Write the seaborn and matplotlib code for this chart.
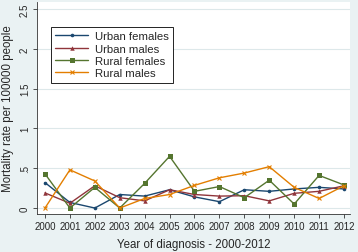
import matplotlib
matplotlib.use("Agg")
import matplotlib.pyplot as plt
import seaborn as sns
import pandas as pd

years = list(range(2000, 2013))
urban_females = [0.32, 0.07, 0.00, 0.17, 0.15, 0.23, 0.14, 0.08, 0.23, 0.21, 0.24, 0.26, 0.24]
urban_males = [0.19, 0.06, 0.28, 0.13, 0.09, 0.23, 0.17, 0.15, 0.155, 0.09, 0.185, 0.21, 0.28]
rural_females = [0.43, 0.00, 0.26, 0.00, 0.31, 0.65, 0.21, 0.27, 0.13, 0.35, 0.05, 0.41, 0.29]
rural_males = [0.00, 0.48, 0.34, 0.00, 0.12, 0.17, 0.285, 0.38, 0.44, 0.52, 0.26, 0.12, 0.28]
groups = ["Urban females", "Urban males", "Rural females", "Rural males"]
yticks = [0, 0.5, 1, 1.5, 2, 2.5]
ytick_labels = ["0", ".5", "1", "1.5", "2", "2.5"]

rows = []
for g, vals in zip(groups, [urban_females, urban_males, rural_females, rural_males]):
    for yr, v in zip(years, vals):
        rows.append({"year": yr, "rate": v, "group": g})
df = pd.DataFrame(rows)

sns.set_style("white")
plt.rcParams["font.family"] = ["Liberation Sans", "DejaVu Sans"]

bg = "#eaf2f3"
palette = {"Urban females": "#1a476f", "Urban males": "#90353b",
           "Rural females": "#55752f", "Rural males": "#e37e00"}
markers = {"Urban females": "o", "Urban males": "^",
           "Rural females": "s", "Rural males": "x"}
sizes = {"Urban females": 2.6, "Urban males": 3.2, "Rural females": 3.6, "Rural males": 3.0}

fig = plt.figure(figsize=(3.58, 2.53), dpi=100, facecolor=bg)
ax = fig.add_axes([37/358, 38/253, 313/358, 212/253])
ax.set_facecolor("white")

for g in groups:
    sub = df[df.group == g]
    sns.lineplot(data=sub, x="year", y="rate", ax=ax, color=palette[g], marker=markers[g],
                 markersize=sizes[g], markeredgewidth=0.8 if g == "Rural males" else 0,
                 markeredgecolor=palette[g], linewidth=1.0, label=g)

ax.set_xlim(1999.68, 2012.24)
ax.set_ylim(-0.075, 2.59)
ax.set_xticks(years)
ax.set_xticklabels([str(y) for y in years], fontsize=7)
ax.set_yticks(yticks)
ax.set_yticklabels(ytick_labels, fontsize=7, rotation=90, va="center")
ax.grid(axis="y", color="#dde8ea", linewidth=0.8)
ax.set_axisbelow(True)
for s in ["top", "right"]:
    ax.spines[s].set_visible(False)
for s in ["left", "bottom"]:
    ax.spines[s].set_color("#333333")
    ax.spines[s].set_linewidth(0.6)
ax.tick_params(axis="both", direction="out", length=3, width=0.6, color="#333333", pad=2,
               bottom=True, left=True)
ax.set_xlabel("Year of diagnosis - 2000-2012", fontsize=8.3, labelpad=5)
ax.set_ylabel("Mortality rate per 100000 people", fontsize=8.3, labelpad=4)

leg = ax.legend(loc="upper left", bbox_to_anchor=(0.025, 0.91), fontsize=8.2, frameon=True,
                fancybox=False, edgecolor="black", framealpha=1, handlelength=2.9,
                borderpad=0.4, labelspacing=0.2, handletextpad=0.6)
leg.get_frame().set_linewidth(0.6)

fig.savefig("out.png", dpi=100, facecolor=bg)
